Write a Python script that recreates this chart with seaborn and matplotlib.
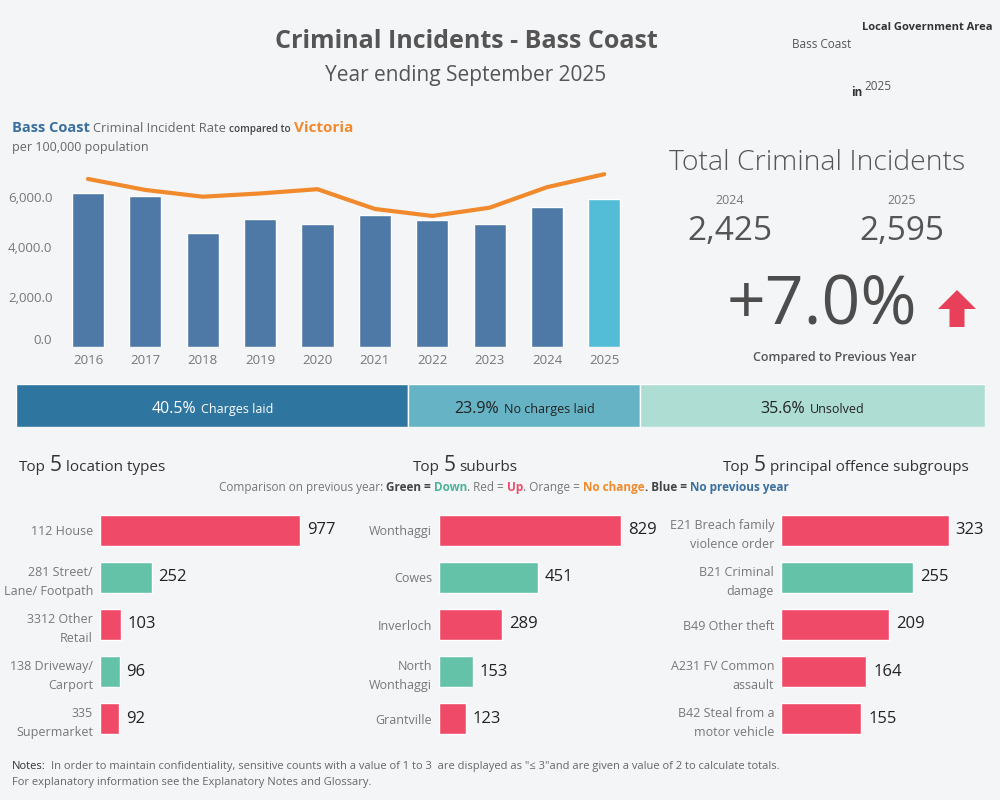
import numpy as np
import seaborn as sns
import matplotlib.pyplot as plt
from matplotlib.patches import Polygon
from matplotlib.ticker import FuncFormatter
from matplotlib.transforms import ScaledTranslation

# ---- data ----
years = ["2016", "2017", "2018", "2019", "2020", "2021", "2022", "2023", "2024", "2025"]
bass_rate = [6140, 6040, 4535, 5120, 4920, 5280, 5055, 4920, 5600, 5920]
vic_rate = [6710, 6270, 6000, 6130, 6300, 5510, 5230, 5560, 6380, 6900]

total_years = ["2024", "2025"]
total_incidents = [2425, 2595]

outcome_labels = ["Charges laid", "No charges laid", "Unsolved"]
outcome_pct = [40.5, 23.9, 35.6]

loc_labels = ["112 House", "281 Street/\nLane/ Footpath", "3312 Other\nRetail",
              "138 Driveway/\nCarport", "335\nSupermarket"]
loc_values = [977, 252, 103, 96, 92]
loc_trend = ["up", "down", "up", "down", "up"]

sub_labels = ["Wonthaggi", "Cowes", "Inverloch", "North\nWonthaggi", "Grantville"]
sub_values = [829, 451, 289, 153, 123]
sub_trend = ["up", "down", "up", "down", "up"]

off_labels = ["E21 Breach family\nviolence order", "B21 Criminal\ndamage", "B49 Other theft",
              "A231 FV Common\nassault", "B42 Steal from a\nmotor vehicle"]
off_values = [323, 255, 209, 164, 155]
off_trend = ["up", "down", "up", "up", "up"]

# ---- style ----
BG = "#f4f5f7"
BLUE = "#4e79a7"
CYAN = "#53bcd7"
ORANGE = "#f08a2c"
RED = "#ef4a68"
GREEN = "#64c2a9"
GREY = "#777777"
DARK = "#555555"
trend_col = {"up": RED, "down": GREEN}
outcome_cols = ["#2e76a0", "#65b3c4", "#aeddd4"]
outcome_txt = ["white", "#222222", "#222222"]

sns.set_theme(style="white")
plt.rcParams["font.family"] = ["Open Sans", "DejaVu Sans"]

W, H = 1000, 800
fig = plt.figure(figsize=(10, 8), dpi=100, facecolor=BG)


def box(l, t, r, b):
    ax = fig.add_axes([l / W, 1 - b / H, (r - l) / W, (b - t) / H])
    ax.set_facecolor("none")
    return ax


def text(x, y, s, **kw):
    kw.setdefault("va", "center")
    return fig.text(x / W, 1 - y / H, s, **kw)


def rich(x, y, parts, ha="left"):
    """parts: (string, kwargs, gap before in px), placed on one baseline"""
    r = fig.canvas.get_renderer()
    items = [fig.text(0, 0, s, va="baseline", **kw) for s, kw, g in parts]
    widths = [t.get_window_extent(r).width for t in items]
    gaps = [g for s, kw, g in parts]
    total = sum(widths) + sum(gaps[1:])
    cur = {"left": x, "center": x - total / 2, "right": x - total}[ha]
    for i, (t, w) in enumerate(zip(items, widths)):
        if i:
            cur += gaps[i]
        t.set_position((cur / W, 1 - y / H))
        cur += w


# ---- header ----
text(466, 42, "Criminal Incidents - Bass Coast", ha="center", fontsize=18,
     weight="bold", color=DARK)
text(466, 75, "Year ending September 2025", ha="center", fontsize=15, color=DARK)
text(992, 27, "Local Government Area", ha="right", fontsize=8, weight="bold", color="#333")
text(792, 44, "Bass Coast", fontsize=8.5, color=DARK)
text(851, 92, "in", fontsize=8.5, weight="bold", color="#333")
text(864, 86, "2025", fontsize=8.5, color=DARK)

# ---- rate chart ----
rich(12, 132, [("Bass Coast", dict(fontsize=10.5, weight="bold", color="#3a6f9e"), 0),
               ("Criminal Incident Rate", dict(fontsize=9.3, color="#666"), 3),
               ("compared to", dict(fontsize=7.2, weight="semibold", color="#444"), 3),
               ("Victoria", dict(fontsize=11, weight="bold", color=ORANGE), 4)])
text(12, 147, "per 100,000 population", fontsize=9, color="#666")

ax = box(59.3, 160, 633, 346.7)
bar_cols = [BLUE] * (len(years) - 1) + [CYAN]
sns.barplot(x=years, y=bass_rate, hue=years, palette=bar_cols, legend=False,
            width=0.56, saturation=1, ax=ax)
sns.lineplot(x=np.arange(len(years)), y=vic_rate, color=ORANGE, lw=3, ax=ax)
ax.set_xlim(-0.5, len(years) - 0.5)
ax.set_ylim(0, 7468)
ax.set_yticks([0, 2000, 4000, 6000])
ax.yaxis.set_major_formatter(FuncFormatter(lambda v, p: f"{v:,.1f}"))
ax.tick_params(length=0, labelsize=9.5, colors=GREY)
ax.tick_params(axis="y", pad=5)
ax.tick_params(axis="x", pad=5)
ax.set_xlabel("")
ax.set_ylabel("")
sns.despine(ax=ax, left=True, bottom=True)
zero = ax.yaxis.get_major_ticks()[0].label1
zero.set_transform(zero.get_transform() + ScaledTranslation(0, 0.08, fig.dpi_scale_trans))

# ---- totals ----
text(817, 163, "Total Criminal Incidents", ha="center", fontsize=20.5, weight="light", color=DARK)
for xc, yr, val in zip([730, 902], total_years, total_incidents):
    text(xc, 201, yr, ha="center", fontsize=9, color=GREY)
    text(xc, 232, f"{val:,}", ha="center", fontsize=24, color=DARK)
change = (total_incidents[1] - total_incidents[0]) / total_incidents[0] * 100
text(822, 307, f"{change:+.1f}%", ha="center", fontsize=49, color="#4d4d4d")
arrow = [(957, 290), (976, 309), (964.5, 309), (964.5, 327),
         (949.5, 327), (949.5, 309), (938, 309)]
fig.add_artist(Polygon([(x / W, 1 - y / H) for x, y in arrow], closed=True,
                       facecolor="#e8405a", edgecolor="none", transform=fig.transFigure))
text(835, 358, "Compared to Previous Year", ha="center", fontsize=9,
     weight="semibold", color=DARK)

# ---- outcomes bar ----
axs = box(16, 384, 985, 427)
lefts = np.cumsum([0] + outcome_pct[:-1])
axs.barh([0] * 3, outcome_pct, left=lefts, color=outcome_cols, height=1)
axs.set_xlim(0, 100)
axs.set_ylim(-0.5, 0.5)
axs.axis("off")
for lft, pct, lab, tc in zip(lefts, outcome_pct, outcome_labels, outcome_txt):
    cx = 16 + (lft + pct / 2) / 100 * 969
    rich(cx, 413, [(f"{pct}%", dict(fontsize=11.5, color=tc), 0),
                   (lab, dict(fontsize=9, color=tc), 5)], ha="center")

# ---- top 5 headers ----
def top5(x, y, label, ha):
    rich(x, y, [("Top", dict(fontsize=11, color="#333"), 0),
                ("5", dict(fontsize=15, color="#333"), 4),
                (label, dict(fontsize=11, color="#333"), 4)], ha=ha)


top5(19, 471, "location types", "left")
top5(465, 471, "suburbs", "center")
top5(723, 471, "principal offence subgroups", "left")

rich(504, 491, [("Comparison on previous year:", dict(fontsize=8.5, color=GREY), 0),
                ("Green =", dict(fontsize=8.5, color="#444", weight="bold"), 3),
                ("Down", dict(fontsize=8.5, color="#4db39a", weight="bold"), 3),
                (". Red =", dict(fontsize=8.5, color=GREY), 0),
                ("Up", dict(fontsize=8.5, color=RED, weight="bold"), 3),
                (". Orange =", dict(fontsize=8.5, color=GREY), 0),
                ("No change", dict(fontsize=8.5, color=ORANGE, weight="bold"), 3),
                (". Blue =", dict(fontsize=8.5, color="#444", weight="bold"), 0),
                ("No previous year", dict(fontsize=8.5, color="#3a6f9e", weight="bold"), 3)],
     ha="center")


def hbar(left, right, labels, values, trend, px_per_unit):
    a = box(left, 506.5, right, 742.5)
    sns.barplot(x=values, y=labels, hue=labels, orient="h", legend=False,
                palette=[trend_col[t] for t in trend], width=0.66, saturation=1, ax=a)
    a.set_xlim(0, (right - left) / px_per_unit)
    for c in a.containers:
        a.bar_label(c, padding=5, fontsize=12, color="#222")
    a.tick_params(length=0, labelsize=9, colors=GREY, pad=5)
    for lbl in a.get_yticklabels():
        lbl.set_linespacing(1.6)
    a.set_xticks([])
    a.set_xlabel("")
    a.set_ylabel("")
    sns.despine(ax=a, left=True, bottom=True)


hbar(100, 330, loc_labels, loc_values, loc_trend, 200 / 977)
hbar(439, 660, sub_labels, sub_values, sub_trend, 182 / 829)
hbar(781, 995, off_labels, off_values, off_trend, 167.6 / 323)

# ---- notes ----
rich(12, 769, [("Notes:", dict(fontsize=8, color="#333"), 0),
               ('In order to maintain confidentiality, sensitive counts with a value of 1 to 3  '
                'are displayed as "\u2264 3"and are given a value of 2 to calculate totals.',
                dict(fontsize=8, color="#666"), 5)])
text(12, 783, "For explanatory information see the Explanatory Notes and Glossary.",
     fontsize=8, color="#666")

fig.savefig("out.png", dpi=100, facecolor=BG)
